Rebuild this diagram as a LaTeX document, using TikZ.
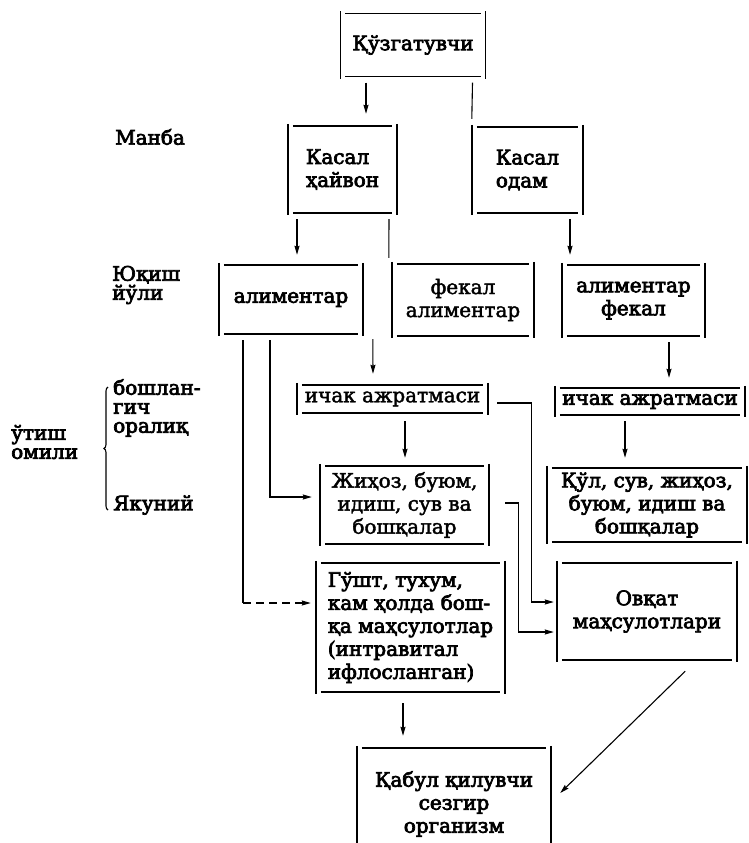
\documentclass[tikz,border=0pt]{standalone}
\usepackage{fontspec}
\setmainfont{DejaVu Serif}[FakeBold=2]
\newfontfamily\heavy{DejaVu Serif}[FakeBold=3.5]
\usepackage{tikz}
\usetikzlibrary{arrows.meta}
\usetikzlibrary{decorations.pathreplacing}
\tikzset{
  blk/.style={draw=none, inner sep=0pt, align=center, font=\fontsize{20}{23}\selectfont},
  lbl/.style={draw=none, inner sep=0pt, anchor=west, align=left, font=\heavy\fontsize{20}{19}\selectfont},
  frm/.style={line width=1.5pt},
  arr/.style={line width=1.1pt, -{Stealth[length=9pt,width=5pt,inset=1pt]}},
  ln/.style={line width=1.1pt},
}
\newcommand{\drawfrm}[1]{
  \draw[frm] ([yshift=2pt]#1.north west) -- ([yshift=-2pt]#1.south west);
  \draw[frm] ([yshift=2pt]#1.north east) -- ([yshift=-2pt]#1.south east);
  \draw[frm] ([xshift=5pt]#1.north west) -- ([xshift=-5pt]#1.north east);
  \draw[frm] ([xshift=5pt]#1.south west) -- ([xshift=-5pt]#1.south east);}

\begin{document}
\begin{tikzpicture}[x=1pt,y=-1pt]
        \path[use as bounding box, clip] (0,0) rectangle (748,843);

        % left labels
        \node[lbl] (manba) at (115,137) {Манба};
        \node[lbl] (yuqish) at (112,285) {Юқиш\\йўли};
        \node[lbl] (utish) at (11,442) {ўтиш\\омили};
        \node[lbl] (bosh) at (113,408) {бошлан-\\гич\\оралиқ};
        \node[lbl] (yakun) at (113,505) {Якуний};
        \draw[ln, decorate, decoration={brace, amplitude=4pt}] (108,510) -- (108,387);

        % row1
        \node[blk, minimum width=145, minimum height=63] (kuz) at (413,45) {\heavy Қўзгатувчи};
        % row2
        \node[blk, align=left, minimum width=109, minimum height=87] (hayvon) at (342.5,169.5) {\heavy Касал\\\heavy ҳайвон};
        \node[blk, align=left, minimum width=111, minimum height=86] (odam) at (527.5,170) {\heavy Касал\\\heavy одам};
        % row3
        \node[blk, minimum width=144, minimum height=69] (alim) at (291,299.5) {\heavy алиментар};
        \node[blk, minimum width=142, minimum height=72] (fekal) at (463,300) {фекал\\алиментар};
        \node[blk, minimum width=143, minimum height=71] (alimfek) at (633.5,300.5) {\heavy алиментар\\\heavy фекал};
        % row4
        \node[blk, minimum width=191, minimum height=28] (ichak1) at (392.5,399) {ичак ажратмаси};
        \node[blk, minimum width=190, minimum height=27] (ichak2) at (650,401.5) {\heavy ичак ажратмаси};
        % row5
        \node[blk, minimum width=169, minimum height=78] (jihoz) at (404.5,505) {Жиҳоз, буюм,\\идиш, сув ва\\бошқалар};
        \node[blk, minimum width=200, minimum height=74] (qul) at (647,505) {\heavy Қўл, сув, жиҳоз,\\\heavy буюм, идиш ва\\\heavy бошқалар};
        % row6
        \node[blk, align=left, minimum width=189, minimum height=129] (gusht) at (410.5,627.5) {\heavy Гўшт, тухум,\\\heavy кам ҳолда бош-\\\heavy қа маҳсулотлар\\\heavy (интравитал\\\heavy ифлосланган)};
        \node[blk, minimum width=180, minimum height=97] (ovqat) at (647,611.5) {\heavy Овқат\\\heavy маҳсулотлари};
        % row7
        \node[blk, minimum width=194, minimum height=112] (qabul) at (454,804) {\heavy Қабул қилувчи\\\heavy сезгир\\\heavy организм};

        % frames
        \drawfrm{kuz}
        \drawfrm{hayvon}
        \drawfrm{odam}
        \drawfrm{alim}
        \drawfrm{fekal}
        \drawfrm{alimfek}
        \drawfrm{ichak1}
        \drawfrm{ichak2}
        \drawfrm{jihoz}
        \drawfrm{qul}
        \drawfrm{gusht}
        \drawfrm{ovqat}
        \drawfrm{qabul}

        % connectors
        \draw[arr] ([xshift=-47pt,yshift=-6pt]kuz.south) -- ([xshift=23.5pt,yshift=12pt]hayvon.north);
        \draw[ln] ([xshift=59.5pt,yshift=-6pt]kuz.south) -- ([yshift=8pt]odam.north west);
        \draw[arr] ([xshift=-45.5pt,yshift=-6pt]hayvon.south) -- ([xshift=6pt,yshift=10pt]alim.north);
        \draw[ln] ([xshift=46.5pt,yshift=-6pt]hayvon.south) -- ([xshift=-3pt,yshift=6pt]fekal.north west);
        \draw[arr] ([xshift=42.5pt,yshift=-6pt]odam.south) -- ([xshift=-63.5pt,yshift=10pt]alimfek.north);

        \coordinate (g1) at ([xshift=-5pt,yshift=24.5pt]gusht.west);
        \draw[ln] ([xshift=-48pt,yshift=-6pt]alim.south) coordinate (d1) -- (d1 |- g1);
        \draw[arr, dash pattern=on 8pt off 5pt] (d1 |- g1) -- (g1);
        \draw[arr] ([xshift=-21pt,yshift=-6pt]alim.south) |- ([xshift=-8pt,yshift=8pt]jihoz.west);
        \draw[arr] ([xshift=-19pt,yshift=-3pt]fekal.south west) -- ([xshift=-19.5pt,yshift=11pt]ichak1.north);

        \draw[arr] ([xshift=12.5pt,yshift=-8pt]ichak1.south) -- ([xshift=0.5pt,yshift=8pt]jihoz.north);
        \draw[arr] ([xshift=9pt,yshift=-4pt]ichak1.east) -| ([xshift=-25pt,yshift=9.5pt]ovqat.west) -- ([xshift=-3pt,yshift=9.5pt]ovqat.west);
        \draw[arr] ([xshift=16pt,yshift=2pt]jihoz.east) -| ([xshift=-38pt,yshift=-20.5pt]ovqat.west) -- ([xshift=-3pt,yshift=-20.5pt]ovqat.west);

        \draw[arr] ([xshift=35.5pt,yshift=-6pt]alimfek.south) -- ([xshift=19pt,yshift=10pt]ichak2.north);
        \draw[arr] ([xshift=-25pt,yshift=-6pt]ichak2.south) -- ([xshift=-22pt,yshift=10pt]qul.north);

        \draw[arr] ([xshift=-7.5pt,yshift=-11pt]gusht.south) -- ([xshift=-51pt,yshift=12pt]qabul.north);
        \draw[arr] ([xshift=-52pt,yshift=-11pt]ovqat.south east) -- ([xshift=9pt,yshift=11pt]qabul.east);
\end{tikzpicture}
\end{document}
